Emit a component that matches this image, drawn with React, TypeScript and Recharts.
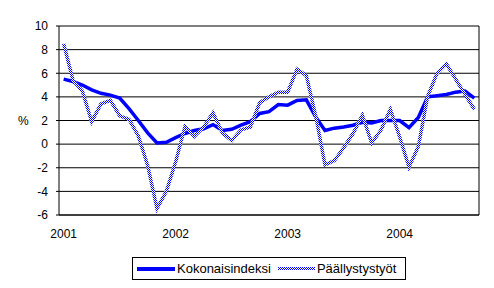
import React from 'react';
import { LineChart, Line, XAxis, YAxis, CartesianGrid, Legend, ReferenceLine } from 'recharts';

const months = [
  '2001-01', '2001-02', '2001-03', '2001-04', '2001-05', '2001-06', '2001-07', '2001-08', '2001-09', '2001-10', '2001-11', '2001-12',
  '2002-01', '2002-02', '2002-03', '2002-04', '2002-05', '2002-06', '2002-07', '2002-08', '2002-09', '2002-10', '2002-11', '2002-12',
  '2003-01', '2003-02', '2003-03', '2003-04', '2003-05', '2003-06', '2003-07', '2003-08', '2003-09', '2003-10', '2003-11', '2003-12',
  '2004-01', '2004-02', '2004-03', '2004-04', '2004-05', '2004-06', '2004-07', '2004-08', '2004-09',
];

const kokonaisindeksi = [
  5.5, 5.3, 5.0, 4.6, 4.3, 4.15, 3.9, 3.0, 2.0, 0.95, 0.1, 0.15,
  0.55, 0.9, 1.15, 1.3, 1.65, 1.15, 1.25, 1.6, 1.9, 2.6, 2.75, 3.35,
  3.3, 3.7, 3.75, 2.3, 1.15, 1.35, 1.45, 1.6, 1.85, 1.8, 2.0, 2.0,
  2.0, 1.4, 2.25, 4.0, 4.1, 4.2, 4.4, 4.5, 3.9,
];

const paallystystyot = [
  8.5, 5.4, 4.5, 1.9, 3.4, 3.7, 2.4, 2.1, 0.7, -1.8, -5.45, -4.0,
  -1.5, 1.5, 0.65, 1.45, 2.65, 0.95, 0.3, 1.2, 1.45, 3.5, 4.0, 4.4,
  4.4, 6.35, 5.8, 2.4, -1.75, -1.4, -0.3, 0.9, 2.45, 0.1, 1.2, 2.95,
  0.6, -1.95, -0.2, 4.05, 6.0, 6.8, 5.5, 4.2, 2.95,
];

const seriesNames = ['Kokonaisindeksi', 'Päällystystyöt'];
const yearLabels = ['2001', '2002', '2003', '2004'];
const yTicks = [-6, -4, -2, 0, 2, 4, 6, 8, 10];

const data = months.map((m, i) => ({
  month: m,
  pos: i + 0.5,
  koko: kokonaisindeksi[i],
  paal: paallystystyot[i],
}));

const boundaryTicks = months.map((_, i) => i).concat(months.length);
const yearTicks = yearLabels.map((y) => months.indexOf(y + '-01') + 0.5);

const FONT = '"Liberation Sans", Arial, sans-serif';

function LegendBox() {
  return (
    <div
      style={{
        boxSizing: 'border-box',
        width: 274,
        height: 23,
        border: '1px solid #000',
        background: '#fff',
        display: 'flex',
        alignItems: 'center',
        paddingLeft: 4,
        fontFamily: FONT,
        fontSize: 13,
        color: '#000',
        whiteSpace: 'nowrap',
      }}
    >
      <svg width={38} height={4} style={{ display: 'block' }}>
        <rect width={38} height={4} fill="#0000ff" />
      </svg>
      <span style={{ marginLeft: 2 }}>{seriesNames[0]}</span>
      <svg width={37} height={3} style={{ display: 'block', marginLeft: 7 }}>
        <rect width={37} height={3} fill="url(#checker)" />
      </svg>
      <span style={{ marginLeft: 2 }}>{seriesNames[1]}</span>
    </div>
  );
}

export default function App() {
  return (
    <div style={{ position: 'absolute', left: 0, top: 0, width: 494, height: 288, background: '#fff' }}>
      <LineChart width={494} height={288} data={data} margin={{ top: 26, right: 15, bottom: 43, left: 0 }}>
        <defs>
          <pattern id="checker" patternUnits="userSpaceOnUse" width="2" height="2">
            <rect width="2" height="2" fill="#ffffff" shapeRendering="crispEdges" />
            <rect width="1" height="1" fill="#0000ff" shapeRendering="crispEdges" />
            <rect x="1" y="1" width="1" height="1" fill="#0000ff" shapeRendering="crispEdges" />
          </pattern>
        </defs>
        <CartesianGrid horizontal vertical={false} stroke="#000" strokeOpacity={1} />
        <XAxis
          dataKey="pos"
          type="number"
          domain={[0, months.length]}
          ticks={boundaryTicks}
          interval={0}
          tick={false}
          tickSize={4}
          height={5}
          stroke="#000"
          allowDataOverflow
        />
        <XAxis
          xAxisId="yr"
          dataKey="pos"
          type="number"
          domain={[0, months.length]}
          ticks={yearTicks}
          interval={0}
          tickFormatter={(v: number) => months[Math.floor(v)].slice(0, 4)}
          axisLine={false}
          tickLine={false}
          tickSize={0}
          tickMargin={9}
          height={25}
          tick={{ fill: '#000', fontSize: 12, fontFamily: FONT }}
          allowDataOverflow
        />
        <YAxis
          domain={[-6, 10]}
          ticks={yTicks}
          interval={0}
          tickSize={3}
          tickMargin={8}
          width={59}
          stroke="#000"
          tick={{ fill: '#000', fontSize: 12, fontFamily: FONT }}
          allowDataOverflow
          label={{ value: '%', position: 'insideLeft', offset: 18, style: { fill: '#000', fontSize: 12, fontFamily: FONT } }}
        />
        <ReferenceLine x={months.length} stroke="#000" />
        <Line
          dataKey="koko"
          name={seriesNames[0]}
          type="linear"
          stroke="#0000ff"
          strokeWidth={3.5}
          dot={false}
          activeDot={false}
          isAnimationActive={false}
        />
        <Line
          dataKey="paal"
          name={seriesNames[1]}
          type="linear"
          stroke="url(#checker)"
          strokeWidth={3.5}
          dot={false}
          activeDot={false}
          isAnimationActive={false}
        />
        <Legend
          verticalAlign="middle"
          align="center"
          content={() => <LegendBox />}
          wrapperStyle={{ left: 132, top: 257, width: 274, height: 23 }}
        />
      </LineChart>
    </div>
  );
}
